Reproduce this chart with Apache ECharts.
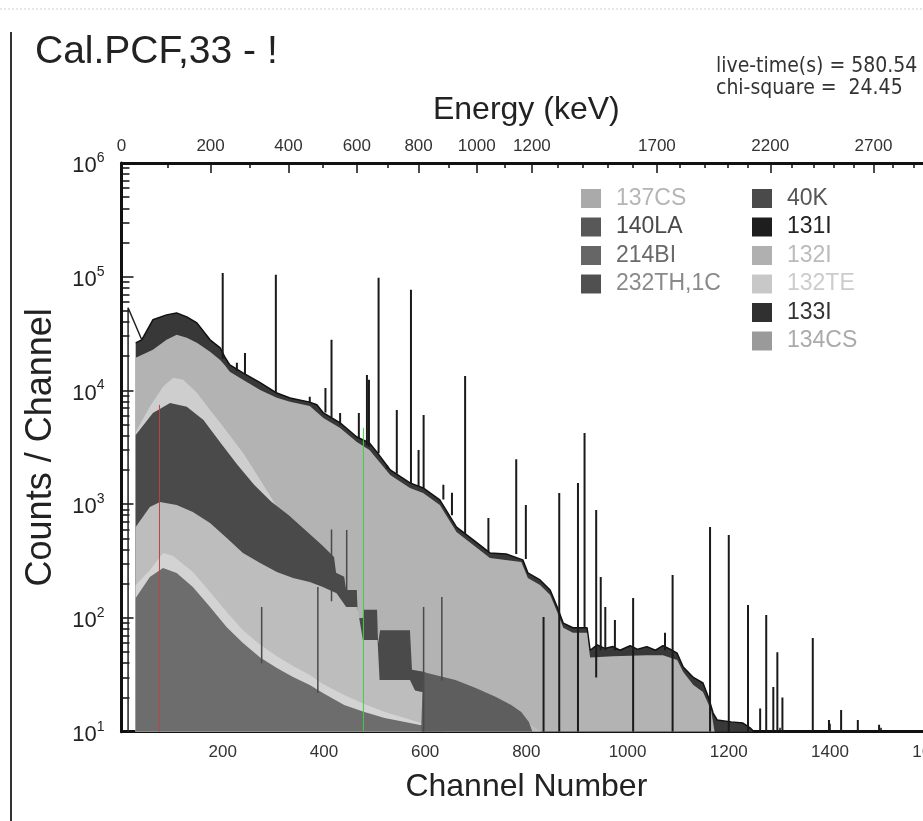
<!DOCTYPE html>
<html>
<head>
<meta charset="utf-8">
<script src="https://cdn.jsdelivr.net/npm/echarts@6/dist/echarts.min.js"></script>
<style>
  html, body { margin: 0; padding: 0; background: #fff; }
  #main { width: 923px; height: 821px; }
</style>
</head>
<body>
<div id="main"></div>
<script>
const FONT = "'Liberation Sans', Arial, sans-serif";
const NARROW = "'Liberation Sans Narrow', 'DejaVu Sans Condensed', 'Liberation Sans', sans-serif";

// top energy axis: channel position of every 100 keV tick, and the labelled ones
const energyTickCh = [0, 92, 176, 254, 330, 398, 465, 527, 587, 647, 702, 758, 811, 863, 912,
  961, 1011, 1058, 1104, 1153, 1197, 1238, 1282, 1325, 1367, 1407, 1446, 1486, 1525, 1565];
const energyLabelCh = [0, 176, 330, 465, 587, 702, 811, 1058, 1282, 1486];
const energyLabels = ['0', '200', '400', '600', '800', '1000', '1200', '1700', '2200', '2700'];

// total spectrum (continuum envelope)
const totalCh = [28, 40, 62, 89, 109, 129, 149, 175, 195, 205, 214, 240, 274, 307, 333, 372, 386, 399,
  432, 465, 490, 504, 531, 570, 596, 629, 662, 695, 728, 760, 793, 803, 827, 847, 861, 873, 892, 920,
  926, 940, 955, 971, 985, 1005, 1020, 1038, 1055, 1070, 1085, 1098, 1110, 1130, 1149, 1160, 1169,
  1177, 1205, 1228, 1242, 1250, 1600];
const totalCounts = [26200, 27900, 41800, 46200, 48100, 44400, 39300, 27900, 23700, 19400, 16800, 14300,
  11700, 9500, 8600, 7900, 7500, 6350, 5200, 3900, 3450, 2900, 2000, 1540, 1390, 1090, 630, 486, 373,
  365, 324, 249, 216, 176, 125, 90, 82, 82, 52, 58, 54, 56, 52, 57, 53, 56, 52, 57, 53, 49, 37, 30,
  26.8, 20, 14.6, 12.7, 12.2, 11.9, 10.8, 10, 10];
// leading edge of the spectrum (first channels)
const leadCh = [13, 13, 40];
const leadCounts = [10, 53300, 27900];

// component boundaries (cumulative)
const i132Ch = [28, 62, 89, 109, 129, 149, 175, 195, 205, 214, 240, 274, 307, 333, 372, 399, 432, 465,
  490, 531, 570, 596, 629, 662, 695, 728, 790, 803, 827, 847, 861, 873, 892, 920, 926, 971, 1038, 1070,
  1098, 1110, 1130, 1149, 1165, 1172];
const i132Counts = [19350, 22760, 27870, 30830, 29010, 26220, 21850, 18580, 16460, 14580, 12400, 10120,
  8610, 7940, 7320, 5740, 4690, 3530, 3000, 1810, 1390, 1257, 986, 571, 439, 337, 311, 225, 195, 159,
  113, 82, 74, 74, 45, 46, 47, 47, 42.7, 33.5, 25.8, 22.3, 15.5, 10];

const te132Ch = [28, 56, 82, 102, 122, 149, 175, 201, 240, 274, 307, 330];
const te132Counts = [4320, 7180, 10760, 12910, 12400, 9530, 6750, 4790, 2830, 1640, 950, 805];

const la140Ch = [28, 62, 96, 129, 162, 196, 229, 262, 296, 330, 363, 396, 420, 424, 440, 444, 465, 467,
  477, 478, 505, 507, 510, 511, 570, 574, 600, 612];
const la140Counts = [4070, 6350, 7780, 7180, 5510, 3460, 2220, 1480, 1050, 805, 594, 439, 344, 250, 230,
  176, 176, 100, 100, 118, 118, 60, 60, 78, 78, 35, 33.5, 10];

const cs137Ch = [28, 56, 76, 109, 141, 175, 208, 240, 274, 307, 339, 372, 398, 425, 444, 466, 477, 506,
  510, 570, 580, 600, 700, 760, 800, 830];
const cs137Counts = [632, 947, 1048, 986, 855, 685, 505, 373, 305, 254, 225, 207, 187, 165, 125, 125, 64,
  64, 28.5, 28.5, 23, 22, 19, 15.5, 12.2, 10];

const cs134Ch = [28, 56, 82, 102, 141, 175, 208, 240, 274, 307, 339, 372, 398, 440, 480, 520, 560, 600, 640];
const cs134Counts = [195, 263, 373, 351, 254, 169, 113, 78, 58, 46, 37.8, 31.5, 26.3, 21, 17.5, 14.9,
  13.2, 11.6, 10];

const bi214Ch = [28, 56, 82, 109, 141, 175, 208, 240, 274, 307, 339, 372, 398, 440, 480, 520, 560, 600, 640];
const bi214Counts = [150, 229, 275, 249, 187, 125, 83, 60.3, 45, 36.3, 30.3, 25.8, 21.9, 17.2, 14.9, 13.2,
  12.2, 11.2, 10];

const th232Ch = [592, 596, 620, 660, 700, 740, 770, 790, 805, 812];
const th232Counts = [10, 33.5, 31.5, 28.5, 24.2, 20.2, 17.2, 14.9, 12.2, 10];

// photopeaks: channel, top, where the spike leaves the continuum
const peakCh = [200, 228, 244, 305, 372, 403, 415, 432, 469, 485, 489, 508, 525, 544, 572, 587, 597,
  636, 653, 679, 725, 780, 799, 834, 865, 902, 915, 938, 947, 956, 975, 1011, 1074, 1089, 1163, 1200,
  1238, 1262, 1274, 1288, 1296, 1306, 1366, 1398, 1422, 1455, 1497];
const peakTop = [108000, 17500, 21400, 104000, 8800, 10540, 27900, 6350, 6350, 13700, 12400, 97800, 2200,
  6750, 76700, 3000, 6100, 1480, 1260, 13440, 758, 2480, 986, 102, 1257, 1540, 4237, 891, 229, 125, 96,
  150, 74, 239, 632, 537, 130, 16, 106, 24.7, 50, 20, 66.7, 12.7, 15.5, 12.7, 11.5];
const peakBase = [19000, 14800, 13800, 9500, 7900, 6400, 5800, 5000, 3800, 3300, 3200, 2800, 2050, 1850,
  1540, 1420, 1380, 1100, 800, 550, 380, 365, 330, 10, 10, 10, 82, 30, 52, 52, 52, 10, 52, 10, 10, 10,
  10, 10, 10, 10, 10, 10, 10, 10, 10, 10, 10];

// peaks seen inside the lower components
const innerCh = [277, 388, 415, 445, 597, 633];
const innerTop = [125, 187, 600, 594, 125, 153];
const innerBase = [40, 21.9, 140, 176, 10, 28];

// channel markers (thin coloured lines)
const markerCh = [75, 478];
const markerTop = [7470, 4700];
const markerBase = [10, 10];
const markerColor = ['#b44', '#4c4'];

const minorMantissa = [2, 3, 4, 5, 6, 7, 8, 9];
const decades = [10, 100, 1000, 10000, 100000];

function pairs(xs, ys) {
  return xs.map((x, i) => [x, ys[i]]);
}

function areaSeries(name, xs, ys, fill, z) {
  return {
    name, type: 'line', data: pairs(xs, ys), symbol: 'none', silent: true, z,
    lineStyle: { width: 0 },
    areaStyle: { color: fill, opacity: 1, origin: 'start' }
  };
}

function stickSeries(name, ch, top, base, color, width, z) {
  return {
    name, type: 'custom', silent: true, z, clip: true,
    data: ch.map((c, i) => [c, top[i], base[i]]),
    encode: { x: 0, y: [1, 2] },
    renderItem: function (params, api) {
      const a = api.coord([api.value(0), api.value(1)]);
      const b = api.coord([api.value(0), api.value(2)]);
      const stroke = Array.isArray(color) ? color[params.dataIndex] : color;
      return {
        type: 'line',
        shape: { x1: a[0], y1: a[1], x2: b[0], y2: b[1] },
        style: { stroke: stroke, lineWidth: width }
      };
    }
  };
}

const minorY = [];
decades.forEach(d => minorMantissa.forEach(m => minorY.push(d * m)));

const chart = echarts.init(document.getElementById('main'));

const totalSeries = areaSeries('133I', totalCh, totalCounts, '#383838', 2);
totalSeries.lineStyle = { color: '#111', width: 1.5 };

const legendBase = {
  orient: 'vertical', selectedMode: false, padding: 0, top: 187,
  itemWidth: 20, itemHeight: 19, itemGap: 5.5, icon: 'rect',
  textStyle: { fontSize: 23, fontFamily: FONT, padding: [0, 0, 0, 10] }
};

const option = {
  animation: false,
  backgroundColor: '#fff',
  textStyle: { fontFamily: FONT },
  grid: { left: 121.5, top: 163, width: 809.7, height: 568.7, outerBoundsMode: 'none', containLabel: false },
  legend: [
    Object.assign({}, legendBase, {
      left: 581,
      data: [
        { name: '137CS', itemStyle: { color: '#aaaaaa' }, textStyle: { color: '#b5b5b5' } },
        { name: '140LA', itemStyle: { color: '#585858' }, textStyle: { color: '#4a4a4a' } },
        { name: '214BI', itemStyle: { color: '#666666' }, textStyle: { color: '#6a6a6a' } },
        { name: '232TH,1C', itemStyle: { color: '#505050' }, textStyle: { color: '#8a8a8a' } }
      ]
    }),
    Object.assign({}, legendBase, {
      left: 752,
      data: [
        { name: '40K', itemStyle: { color: '#4a4a4a' }, textStyle: { color: '#555555' } },
        { name: '131I', itemStyle: { color: '#1e1e1e' }, textStyle: { color: '#222222' } },
        { name: '132I', itemStyle: { color: '#b0b0b0' }, textStyle: { color: '#bbbbbb' } },
        { name: '132TE', itemStyle: { color: '#c8c8c8' }, textStyle: { color: '#cccccc' } },
        { name: '133I', itemStyle: { color: '#303030' }, textStyle: { color: '#333333' } },
        { name: '134CS', itemStyle: { color: '#9a9a9a' }, textStyle: { color: '#aaaaaa' } }
      ]
    })
  ],
  xAxis: [
    {
      type: 'value', min: 0, max: 1600, interval: 200, position: 'bottom',
      name: 'Channel Number', nameLocation: 'middle', nameGap: 39,
      nameTextStyle: { fontSize: 32, color: '#222', fontFamily: FONT },
      axisLine: { lineStyle: { color: '#111', width: 3 } },
      axisTick: { inside: true, length: 8, lineStyle: { color: '#111', width: 1.5 } },
      minorTick: { show: true, splitNumber: 2, length: 4, lineStyle: { color: '#111', width: 1.5 } },
      axisLabel: { fontSize: 17, color: '#333', margin: 12, showMinLabel: false, fontFamily: FONT, formatter: v => String(v) },
      splitLine: { show: false }
    },
    {
      type: 'value', min: 0, max: 1600, position: 'top',
      name: 'Energy (keV)', nameLocation: 'middle', nameGap: 37,
      nameTextStyle: { fontSize: 32, color: '#222', fontFamily: FONT },
      axisLine: { lineStyle: { color: '#111', width: 3 } },
      axisTick: { inside: true, length: 5, customValues: energyTickCh, lineStyle: { color: '#111', width: 1.5 } },
      axisLabel: {
        fontSize: 17, color: '#333', margin: 8, fontFamily: FONT,
        customValues: energyLabelCh,
        formatter: v => energyLabels[energyLabelCh.indexOf(v)]
      },
      splitLine: { show: false }
    },
    {
      type: 'value', min: 0, max: 1600, position: 'top',
      axisLine: { show: false },
      axisTick: { inside: true, length: 10, customValues: energyLabelCh, lineStyle: { color: '#111', width: 1.5 } },
      axisLabel: { show: false },
      splitLine: { show: false }
    }
  ],
  yAxis: [
    {
      type: 'log', logBase: 10, min: 10, max: 1000000, position: 'left',
      name: 'Counts / Channel', nameLocation: 'middle', nameGap: 62,
      nameTextStyle: { fontSize: 36, color: '#222', fontFamily: FONT },
      axisLine: { show: true, lineStyle: { color: '#111', width: 3 } },
      axisTick: { inside: true, length: 8, customValues: minorY, lineStyle: { color: '#111', width: 1.5 } },
      axisLabel: { show: false },
      splitLine: { show: false }
    },
    {
      type: 'log', logBase: 10, min: 10, max: 1000000, position: 'left',
      axisLine: { show: false },
      axisTick: { inside: true, length: 12, lineStyle: { color: '#111', width: 1.5 } },
      axisLabel: {
        margin: 17, color: '#222',
        formatter: v => '{b|10}{s|' + Math.round(Math.log10(v)) + '}',
        rich: {
          b: { fontSize: 22, fontFamily: FONT, color: '#222', padding: [6, 0, 0, 0] },
          s: { fontSize: 14, fontFamily: FONT, color: '#222', padding: [0, 0, 10, 0] }
        }
      },
      splitLine: { show: false }
    }
  ],
  graphic: [
    { type: 'line', shape: { x1: 11, y1: 32, x2: 11, y2: 821 }, style: { stroke: '#333', lineWidth: 2 } },
    { type: 'line', shape: { x1: 0, y1: 9, x2: 923, y2: 9 }, style: { stroke: '#cfcfcf', lineWidth: 1, lineDash: [2, 2] } },
    { type: 'text', x: 35, y: 52, style: { text: 'Cal.PCF,33 - !', fontSize: 39, fontFamily: FONT, fill: '#222', verticalAlign: 'middle' } },
    { type: 'text', x: 716, y: 67, style: { text: 'live-time(s) = 580.54', fontSize: 21, fontFamily: NARROW, fill: '#333', verticalAlign: 'middle' } },
    { type: 'text', x: 716, y: 89, style: { text: 'chi-square =  24.45', fontSize: 21, fontFamily: NARROW, fill: '#333', verticalAlign: 'middle' } }
  ],
  series: [
    totalSeries,
    areaSeries('132I', i132Ch, i132Counts, '#b3b3b3', 3),
    areaSeries('132TE', te132Ch, te132Counts, '#cecece', 4),
    areaSeries('140LA', la140Ch, la140Counts, '#4a4a4a', 5),
    areaSeries('137CS', cs137Ch, cs137Counts, '#bdbdbd', 6),
    areaSeries('134CS', cs134Ch, cs134Counts, '#d3d3d3', 7),
    areaSeries('214BI', bi214Ch, bi214Counts, '#6d6d6d', 8),
    areaSeries('232TH,1C', th232Ch, th232Counts, '#5e5e5e', 9),
    stickSeries('40K', innerCh, innerTop, innerBase, '#4a4a4a', 1.5, 10),
    stickSeries('131I', peakCh, peakTop, peakBase, '#1a1a1a', 2, 11),
    stickSeries('', markerCh, markerTop, markerBase, markerColor, 1, 12),
    {
      type: 'line', data: pairs(leadCh, leadCounts), symbol: 'none', silent: true, z: 11,
      lineStyle: { color: '#222', width: 1.5 }
    }
  ]
};

chart.setOption(option);
</script>
</body>
</html>
